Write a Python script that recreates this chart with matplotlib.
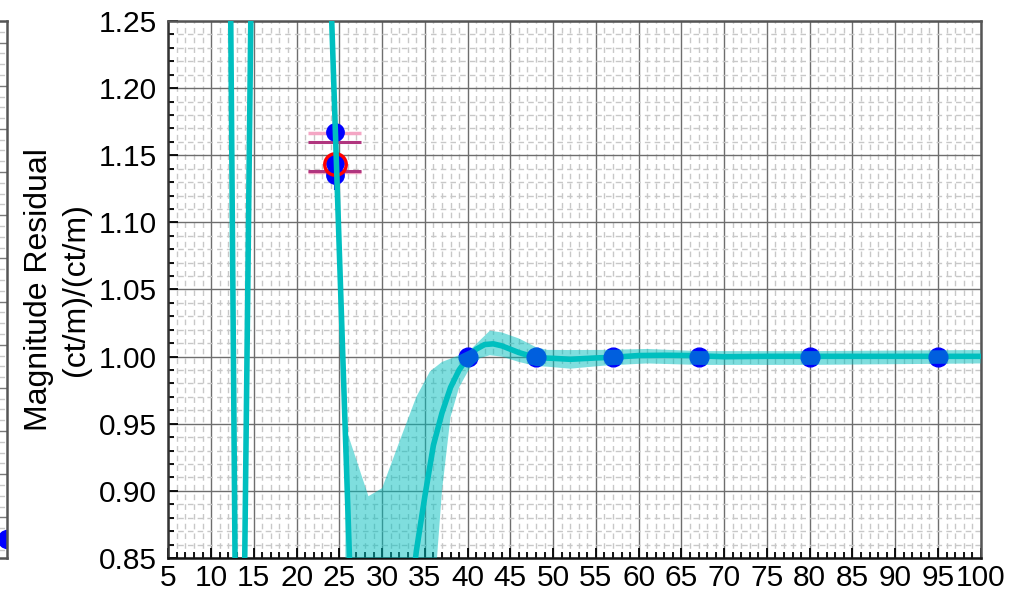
import numpy as np
import matplotlib.pyplot as plt
from matplotlib.ticker import MultipleLocator, FormatStrFormatter

plt.rcParams['font.family'] = ['Liberation Sans', 'DejaVu Sans']

# model curve
x_fit = [12.0, 13.27, 17.05, 28.0, 30, 32, 33, 34, 35, 36, 37, 38, 39, 40, 41, 42, 43, 44,
         46, 48, 50, 52, 55, 57, 60, 63, 66, 70, 75, 80, 90, 100]
y_fit = [1.49, 0.474, 2.61, 0.50, 0.58, 0.72, 0.80, 0.855, 0.896, 0.934, 0.958, 0.977, 0.990,
         0.999, 1.0055, 1.009, 1.0095, 1.008, 1.003, 0.9992, 0.9987, 0.998, 0.999, 0.9995,
         1.0008, 1.001, 1.0008, 0.9999, 1.0002, 1.0002, 1.0002, 1.0002]

# uncertainty band
x_band = [25.7, 28.4, 30, 32.1, 34, 35.6, 37, 38, 39, 40.3, 41.5, 42.6, 44, 46, 48, 49.3,
          52, 56, 61, 67, 80, 100]
band_hi = [0.948, 0.896, 0.902, 0.938, 0.970, 0.989, 0.996, 0.9985, 1.001, 1.005, 1.0125,
           1.0193, 1.018, 1.0135, 1.007, 1.005, 1.0049, 1.005, 1.0057, 1.0041, 1.0041, 1.0049]
band_lo = [0.3, 0.3, 0.3, 0.4, 0.6, 0.78, 0.90, 0.955, 0.977, 0.992, 0.999, 1.001, 1.000,
           0.996, 0.993, 0.9925, 0.991, 0.9933, 0.9949, 0.9938, 0.9938, 0.9949]

# measured points
x_obs = [40, 48, 57, 67, 80, 95]
y_obs = [1.0, 1.0, 1.0, 1.0, 1.0, 1.0]

# early points near 24.5
x_early = [24.5, 24.5, 24.5]
y_early = [1.1675, 1.144, 1.135]
y_ring = 1.1435
err_lo, err_hi = 1.124, 1.179
pink_y = [1.1668, 1.1377]
purple_y = [1.1596, 1.1383]
bar_x0, bar_x1 = 21.3, 27.5

xticks = list(range(5, 101, 5))
yticks = [0.85, 0.90, 0.95, 1.00, 1.05, 1.10, 1.15, 1.20, 1.25]

cyan = (0, 0.75, 0.75)
fig = plt.figure(figsize=(10.22, 5.96), dpi=100)

# left neighbour panel, only its right edge is on the page
axl = fig.add_axes([-0.293, 0.0638, 0.2996, 0.901])
axl.set_xlim(0, 1)
axl.set_ylim(0.06, 12.5)
axl.yaxis.set_major_locator(MultipleLocator(1))
axl.yaxis.set_minor_locator(MultipleLocator(0.25))
axl.grid(True, which='major', axis='y', color='#7a7a7a', lw=1.0)
axl.grid(True, which='minor', axis='y', color='#c8c8c8', lw=1.0, ls=(0, (4, 3)))
axl.tick_params(which='both', length=0, labelleft=False, labelbottom=False)
axl.set_xticks([])
axl.plot([0.5, 1.0], [0.5, 0.5], color=cyan, lw=4)
axl.plot([1.0], [0.5], 'o', color='blue', ms=13)
for s in axl.spines.values():
    s.set_color('#555555')
    s.set_linewidth(1.8)

ax = fig.add_axes([0.1647, 0.0638, 0.7949, 0.901])

ax.plot(x_fit, y_fit, color=cyan, lw=4, zorder=4)
ax.plot(x_obs, y_obs, 'o', color='blue', ms=13.5, zorder=5)
ax.fill_between(x_band, band_lo, band_hi, color=cyan, alpha=0.5, lw=0, zorder=6)

ax.vlines(x_early[0], err_lo, err_hi, color='blue', lw=1.5, zorder=2)
ax.hlines(pink_y, bar_x0, bar_x1, color='#f4a6c4', lw=2.5, zorder=2)
ax.hlines(purple_y, bar_x0, bar_x1, color='#b0357e', lw=2.2, zorder=2)
ax.plot(x_early, y_early, 'o', color='blue', ms=12.5, zorder=3)
ax.plot([x_early[0]], [y_ring], 'o', mfc='none', mec='red', mew=2.4, ms=15.5, zorder=3)

ax.set_xlim(5, 100)
ax.set_ylim(0.85, 1.25)
ax.set_xticks(xticks)
ax.set_xticklabels([str(t) for t in xticks])
ax.set_yticks(yticks)
ax.yaxis.set_major_formatter(FormatStrFormatter('%.2f'))
ax.xaxis.set_minor_locator(MultipleLocator(1))
ax.yaxis.set_minor_locator(MultipleLocator(0.01))
ax.grid(True, which='major', color='#6e6e6e', lw=1.0)
ax.grid(True, which='minor', color='#c8c8c8', lw=1.0, ls=(0, (4, 3)))
ax.set_axisbelow(True)
ax.tick_params(which='both', direction='in', labelsize=21.5, color='black', width=1.3)
ax.tick_params(which='major', length=7)
ax.tick_params(which='minor', length=4.5)
ax.tick_params(axis='y', pad=8)
ax.tick_params(axis='x', pad=4)
for s in ax.spines.values():
    s.set_color('#555555')
    s.set_linewidth(1.8)
ax.spines['left'].set_color('#333333')
ax.spines['bottom'].set_color('#111111')

ax.set_ylabel('Magnitude Residual\n(ct/m)/(ct/m)', fontsize=23, labelpad=6, linespacing=1.3)

fig.savefig('out.png', dpi=100)
